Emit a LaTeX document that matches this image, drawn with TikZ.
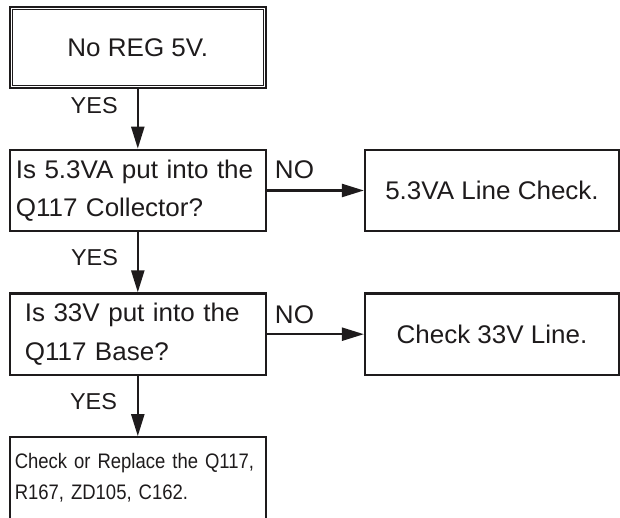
\documentclass[tikz,border=0pt]{standalone}
\usepackage{fontspec}
\setmainfont{Liberation Sans}[FakeStretch=1.02]
\newfontfamily\narrowfont{Liberation Sans}[FakeStretch=0.88]
\usepackage{tikz}
\usetikzlibrary{arrows.meta}
\usetikzlibrary{positioning}
\definecolor{ink}{RGB}{30,27,28}

\begin{document}
\begin{tikzpicture}[x=1pt, y=1pt,
    box/.style={draw=ink, line width=2.2pt, minimum width=256pt, minimum height=81.5pt,
      inner ysep=0pt, text=ink, font={\fontsize{25.5}{38.5}\selectfont}},
    flow/.style={draw=ink, line width=2.3pt, -{Triangle[length=22pt,width=13pt]}},
    answer/.style={text=ink, inner sep=0pt, anchor=base}]
    \useasboundingbox (0, 0) rectangle (620, 518);

    \node[box] (start) at (137.8, 470.5) {No REG 5V.};
    \draw[ink, line width=1pt] ([shift={(3.8,-3.8)}]start.north west) rectangle ([shift={(-3.8,3.8)}]start.south east);

    \node[box, inner xsep=6pt, text width=244pt, align=left] (ask53) at (137.8, 327.5) {Is 5.3VA put into the\\Q117 Collector?};
    \node[box, minimum width=254pt] (line53) at (492, 327.5) {5.3VA Line Check.};

    \node[box, inner xsep=15pt, text width=226pt, align=left] (ask33) at (137.8, 183.8) {Is 33V put into the\\Q117 Base?};
    \node[box, minimum width=254pt] (line33) at (492, 183.8) {Check 33V Line.};

    \node[box, inner xsep=5pt, text width=246pt, align=left,
      font={\narrowfont\fontsize{21}{31.4}\selectfont}] (fix) at (137.8, 40) {Check or Replace the Q117,\\R167, ZD105, C162.};

    \draw[flow] (start) -- (ask53);
    \draw[flow] (ask53) -- (ask33);
    \draw[flow] (ask33) -- (fix);
    \draw[flow] (ask53) -- (line53);
    \draw[flow] (ask33) -- (line33);

    \node[answer, font={\fontsize{23}{26}\selectfont}] (yes1) at (94.2, 404.7) {YES};
    \node[answer, font={\fontsize{23}{26}\selectfont}] (yes2) at (94.5, 252) {YES};
    \node[answer, font={\fontsize{23}{26}\selectfont}] (yes3) at (93.5, 108.4) {YES};
    \node[answer, font={\fontsize{25.5}{28}\selectfont}] (no1) at (294.5, 339) {NO};
    \node[answer, font={\fontsize{25.5}{28}\selectfont}] (no2) at (294.5, 194.7) {NO};
  \end{tikzpicture}
\end{document}
